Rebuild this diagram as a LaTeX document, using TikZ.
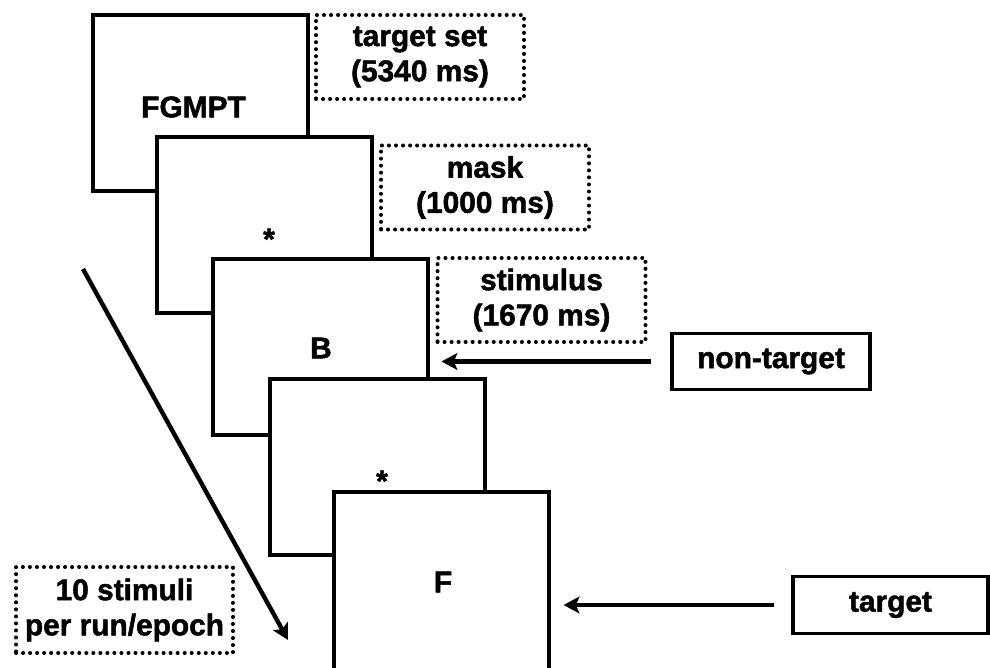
\documentclass[tikz,border=0pt]{standalone}
\usepackage{fontspec}
\setmainfont{Liberation Sans}[BoldFeatures={FakeBold=1.6}]
\usepackage{tikz}
\usetikzlibrary{arrows.meta, calc, positioning}
\definecolor{inkblack}{HTML}{000000}

\begin{document}
\begin{tikzpicture}[
      x=0.02cm,
      y=-0.02cm,
      font=\bfseries\fontsize{17}{20}\selectfont,
      screen/.style={draw=inkblack, fill=white, line width=1.8pt, inner sep=0pt,
        minimum width=4.3cm, minimum height=3.52cm},
      phase/.style={draw=inkblack, line width=2.3pt, dash pattern=on 0pt off 4pt,
        line cap=round, align=center, inner sep=0pt,
        minimum width=4.16cm, minimum height=1.68cm},
      kind/.style={draw=inkblack, line width=1.8pt, inner sep=0pt, minimum height=1.13cm},
      pointer/.style={-{Stealth[length=9pt, width=9.5pt, inset=2pt]}, line width=2.5pt, draw=inkblack}
  ]
    \useasboundingbox (0,0) rectangle (990,668);
    % stacked screens
    \node[screen] (scr1) at (200.5,103) {};
    \node (scr1txt) at ($(scr1.center)+(-7,4)$) {FGMPT};
    \node[screen] (scr2) at (264.5,225) {};
    \node (scr2txt) at ($(scr2.center)+(4.5,14)$) {*};
    \node[screen] (scr3) at (320.5,347) {};
    \node (scr3txt) at ($(scr3.center)+(0.5,1)$) {B};
    \node[screen] (scr4) at (377.5,467) {};
    \node (scr4txt) at ($(scr4.center)+(4.5,14)$) {*};
    \node[screen, minimum height=3.7cm] (scr5) at (441.5,584.5) {};
    \node (scr5txt) at ($(scr5.center)+(1.5,-2.5)$) {F};
    % timing boxes
    \node[phase] (setbox) at (420,57) {target set\\(5340 ms)};
    \node[phase] (maskbox) at (485,187.5) {mask\\(1000 ms)};
    \node[phase] (stimbox) at (541.5,300) {stimulus\\(1670 ms)};
    \node[phase, minimum width=4.34cm, minimum height=1.72cm] (runbox) at (124.5,610)
      {10 stimuli\\per run/epoch};
    % stimulus types
    \node[kind, minimum width=3.96cm] (nontgt) at (771,361.5) {non-target};
    \node[kind, minimum width=3.9cm] (tgt) at (890.5,605) {target};
    \draw[pointer, shorten <=10.8pt, shorten >=6.8pt] (nontgt.west) -- (scr3.east |- nontgt.west);
    \draw[pointer, shorten <=10.2pt, shorten >=7.4pt] (tgt.west) -- (scr5.east |- tgt.west);
    % time runs down the stack
    \coordinate (flowtop) at (83,269);
    \coordinate (flowend) at (288,640);
    \draw[pointer] (flowtop) -- (flowend);
  \end{tikzpicture}
\end{document}
